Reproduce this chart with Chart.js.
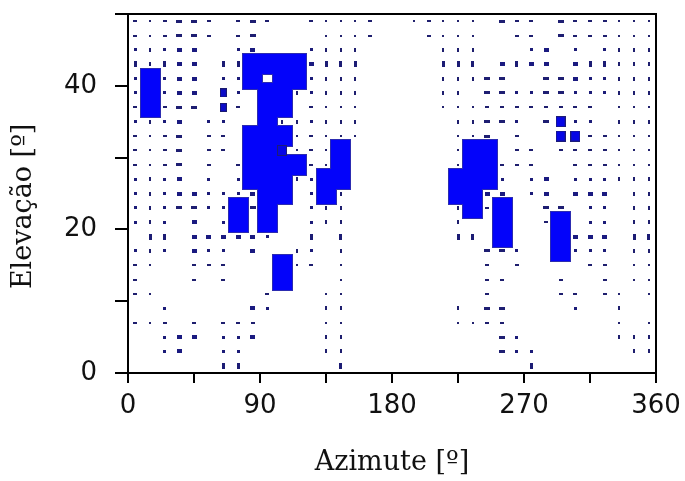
<!DOCTYPE html>
<html lang="pt">
<head>
<meta charset="UTF-8">
<title>Elevação x Azimute</title>
<script src="https://cdn.jsdelivr.net/npm/chart.js"></script>
<style>
  html, body { margin: 0; padding: 0; background: #fff; }
</style>
</head>
<body>
<canvas id="mapa" width="685" height="481"></canvas>
<script>
// centro de cada coluna da grade (azimute, graus)
const azimutes = [5, 15, 25, 35, 45, 55, 65, 75, 85, 95, 105, 115,
                  125, 135, 145, 155, 165, 175, 185, 195, 205, 215, 225, 235,
                  245, 255, 265, 275, 285, 295, 305, 315, 325, 335, 345, 355];
// centro de cada linha (elevação, graus), de cima para baixo
const elevacoes = [49, 47, 45, 43, 41, 39, 37, 35, 33, 31, 29, 27, 25,
                   23, 21, 19, 17, 15, 13, 11, 9, 7, 5, 3, 1];
// uma letra por célula: ' ' vazio, . - = i I o s pequenos, S B quadrados, # cheio
const grade = [
  "-.-==- -=-  -...-  .-... =-- =---...",
  "-.-==- -=    ...-   -...  -- =---...",
  "oioss  os   oiii     iii   os o oiii",
  "IiIss II####sIII     III sIss sIIiii",
  "o#oss oo# ##oiii     iii==  ==sooiii",
  "o#oss So ##ioiii     ii ==oo==oooiii",
  "-#-== S- ## -...     ...-------- ...",
  "oios oo  #iioiii      ii==o =Boo iii",
  "-.-= -- ###.-...      ..= -  BB--...",
  "-.-= -- ##B.-.#       .## -- ----...",
  "-.-= - -####-.#       .##---  ---...",
  "oios o o###io##       ###o os oooiii",
  "oiossooos## o#i       ##ss os sss ii",
  "oio==oo#=#  oii       i#-#  == oo ii",
  "oio s o# #  oii       i  #  -# oo ii",
  " II ssssso  I I       II #   #sss II",
  "oio soo s  io i         ==o  #ooo ii",
  "-.  ---   #.- .         - -    -- ..",
  "-   - -   #   .         --   -  - ..",
  "-.       -   ..         -    -- -. .",
  "  o     so   ii       i ==    o  i  ",
  "-.- - ---    ..       ..--       . .",
  "  oss oos    ii          =o      iii",
  "  os  oo     ii          =oo      ii",
  "      II      I            I        "
];
const rotulosX = [0, 90, 180, 270, 360];
const rotulosY = [0, 20, 40];

// tamanho (px) e cor de cada tipo de marca
const marcas = {
  '.': { w: 2, h: 2, cor: '#22226e' },
  '-': { w: 4, h: 2, cor: '#1e1e6e' },
  '=': { w: 6, h: 3, cor: '#1e1e72' },
  'i': { w: 2, h: 4, cor: '#1e1e6e' },
  'I': { w: 3, h: 6, cor: '#1c1c74' },
  'o': { w: 3, h: 3, cor: '#1c1c78' },
  's': { w: 5, h: 4, cor: '#1a1a80' },
  'S': { w: 7, h: 9, cor: '#0c0cc8', borda: '#1a1a70' },
  'B': { w: 10, h: 11, cor: '#0606e6', borda: '#1c1c78' },
  '#': { w: 19, h: 20, cor: '#0303fa' }
};

function caixa(w, h, cor, borda) {
  const c = document.createElement('canvas');
  c.width = w; c.height = h;
  const g = c.getContext('2d');
  g.fillStyle = borda || cor;
  g.fillRect(0, 0, w, h);
  if (borda) {
    g.fillStyle = cor;
    g.fillRect(1, 1, w - 2, h - 2);
  }
  return c;
}

function pontos(letra) {
  const p = [];
  grade.forEach((linha, r) => {
    for (let c = 0; c < linha.length; c++) {
      if (linha[c] === letra) p.push({ x: azimutes[c], y: elevacoes[r] });
    }
  });
  return p;
}

const datasets = [];
Object.keys(marcas).forEach((k, i) => {
  const m = marcas[k];
  datasets.push({
    label: k,
    data: pontos(k),
    pointStyle: caixa(m.w, m.h, m.cor, m.borda),
    pointRadius: 2,
    order: k === '#' ? 20 : i
  });
});
// contorno escuro dos blocos cheios, desenhado por baixo
datasets.push({
  label: '#borda',
  data: pontos('#'),
  pointStyle: caixa(21, 22, '#2c2cb0'),
  pointRadius: 2,
  order: 30
});

const moldura = {
  id: 'moldura',
  afterDraw(chart) {
    const { ctx, chartArea: a } = chart;
    ctx.save();
    ctx.strokeStyle = '#000';
    ctx.lineWidth = 2;
    ctx.strokeRect(a.left, a.top, a.right - a.left, a.bottom - a.top);
    ctx.restore();
  }
};

const fonteEixo = { family: 'DejaVu Sans', size: 26 };
const fonteTitulo = { family: 'DejaVu Serif', size: 27 };

new Chart(document.getElementById('mapa'), {
  type: 'scatter',
  data: { datasets },
  options: {
    responsive: false,
    animation: false,
    layout: { padding: { top: 14, right: 29, left: 0, bottom: 0 } },
    plugins: { legend: { display: false }, tooltip: { enabled: false } },
    scales: {
      x: {
        type: 'linear', min: 0, max: 360,
        afterFit: (s) => { s.height = 108; s.paddingLeft = 0; s.paddingRight = 0; },
        ticks: {
          stepSize: 45, autoSkip: false, maxRotation: 0, padding: 8,
          color: '#111', font: fonteEixo,
          callback: (v) => rotulosX.includes(v) ? String(v) : ''
        },
        grid: { drawOnChartArea: false, tickLength: 10, color: '#000', lineWidth: 2 },
        border: { color: '#000', width: 2 },
        title: { display: true, text: 'Azimute [º]', color: '#111', font: fonteTitulo, padding: { top: 0, bottom: 2 } }
      },
      y: {
        type: 'linear', min: 0, max: 50,
        afterFit: (s) => { s.width = 128; s.paddingTop = 0; s.paddingBottom = 0; },
        ticks: {
          stepSize: 10, autoSkip: false, padding: 18,
          color: '#111', font: fonteEixo,
          callback: (v) => rotulosY.includes(v) ? String(v) : ''
        },
        grid: { drawOnChartArea: false, tickLength: 13, color: '#000', lineWidth: 2 },
        border: { color: '#000', width: 2 },
        // espaços finos no fim descem o título para onde está no original
        title: { display: true, text: 'Elevação [º]\u00a0\u00a0\u00a0', color: '#111', font: fonteTitulo, padding: { top: 8, bottom: 0 } }
      }
    }
  },
  plugins: [moldura]
});
</script>
</body>
</html>
